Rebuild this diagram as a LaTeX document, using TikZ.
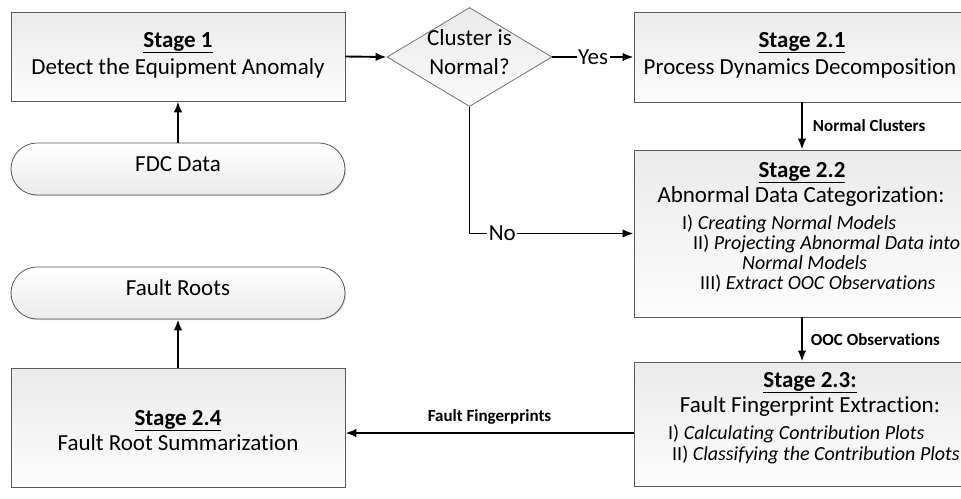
\documentclass[tikz,border=0pt]{standalone}
\usepackage{fontspec}
\setmainfont{Carlito}[Ligatures=NoCommon]
\usetikzlibrary{arrows.meta,shapes.geometric,shadows}
\begin{document}
\begin{tikzpicture}[x=1pt,y=-1pt,
  boxshadow/.style={drop shadow={shadow xshift=1pt,shadow yshift=-1pt,fill=black!30,opacity=0.5}},
  stagebox/.style={rectangle,draw=black!65,line width=0.8pt,top color=black!8,bottom color=black!1,
    inner sep=0pt,boxshadow},
  pill/.style={rectangle,rounded corners=26pt,draw=black!65,line width=0.8pt,top color=white,
    bottom color=black!8,inner sep=0pt,minimum width=334pt,minimum height=52pt,boxshadow},
  decision/.style={diamond,draw=black!55,line width=0.8pt,top color=black!8,bottom color=black!2,
    inner sep=0pt,minimum width=165pt,minimum height=99pt},
  txt/.style={inner sep=0pt,font=\fontsize{23}{27}\selectfont},
  small/.style={inner sep=0pt,anchor=mid west,font=\fontsize{20}{23}\selectfont},
  lbl/.style={inner sep=0pt,font=\fontsize{17}{20}\selectfont\bfseries},
  flow/.style={line width=1.9pt,-{Latex[length=11pt,width=8.5pt]}},
]
\useasboundingbox (0,0) rectangle (961,498);
\clip (0,0) rectangle (961,498);

% shapes
\node[stagebox,minimum width=334pt,minimum height=89pt] (s1) at (178,56.5) {};
\node[pill] (fdc) at (178,169) {};
\node[decision] (dec) at (469.5,57) {};
\node[stagebox,minimum width=336pt,minimum height=90pt] (s21) at (802,57) {};
\node[stagebox,minimum width=336pt,minimum height=167pt] (s22) at (802,233.5) {};
\node[stagebox,minimum width=336pt,minimum height=124pt] (s23) at (802,424) {};
\node[stagebox,minimum width=334pt,minimum height=119pt] (s24) at (178,427.5) {};
\node[pill] (roots) at (178,293) {};

% texts
\node[txt,anchor=mid] (s1a) at (178,45) {\underline{\textbf{Stage 1}}};
\node[txt,anchor=mid] (s1b) at (178,72) {Detect the Equipment Anomaly};
\node[txt,anchor=mid] (fdct) at (178,169) {FDC Data};
\node[txt,anchor=mid] (deca) at (469.5,43) {Cluster is};
\node[txt,anchor=mid] (decb) at (469.5,72) {Normal?};
\node[txt,anchor=mid] (s21a) at (802,45) {\underline{\textbf{Stage 2.1}}};
\node[txt,anchor=mid] (s21b) at (800,72) {Process Dynamics Decomposition};
\node[txt,anchor=mid] (s22a) at (802,175) {\underline{\textbf{Stage 2.2}}};
\node[txt,anchor=mid] (s22b) at (801,200) {Abnormal Data Categorization:};
\node[small] (s22c) at (682,227) {I) \textit{Creating Normal Models}};
\node[small] (s22d) at (693,247) {II) \textit{Projecting Abnormal Data into}};
\node[small] (s22e) at (742,267) {\textit{Normal Models}};
\node[small] (s22f) at (700,287) {III) \textit{Extract OOC Observations}};
\node[txt,anchor=mid] (s23a) at (810,385) {\underline{\textbf{Stage 2.3:}}};
\node[txt,anchor=mid] (s23b) at (810,410) {Fault Fingerprint Extraction:};
\node[small] (s23c) at (668,437) {I) \textit{Calculating Contribution Plots}};
\node[small] (s23d) at (672,458) {II) \textit{Classifying the Contribution Plots}};
\node[txt,anchor=mid] (s24a) at (178,423) {\underline{\textbf{Stage 2.4}}};
\node[txt,anchor=mid] (s24b) at (178,448) {Fault Root Summarization};
\node[txt,anchor=mid] (rootst) at (178,293) {Fault Roots};

% connectors
\draw[flow] (fdc.north) -- (s1.south);
\draw[flow] (s1.east) -- (dec.west);
\draw[flow] (dec.east) -- node[txt,fill=white,inner xsep=1.5pt,inner ysep=2pt] (yes) {Yes} (s21.west);
\draw[flow] (s21.south) -- node[lbl,anchor=west,xshift=10pt] (nc) {Normal Clusters} (s22.north);
\draw[flow] (dec.south) |- node[txt,pos=0.6,fill=white,inner xsep=1.5pt,inner ysep=2pt] (no) {No} (s22.west);
\draw[flow] (s22.south) -- node[lbl,anchor=west,xshift=8pt] (ooc) {OOC Observations} (s23.north);
\draw[flow] ([yshift=-9pt]s23.west) -- node[lbl,anchor=south,yshift=8pt] (ff) {Fault Fingerprints} ([yshift=-9pt]s23.west -| s24.east);
\draw[flow] (s24.north) -- (roots.south);
\end{tikzpicture}
\end{document}
